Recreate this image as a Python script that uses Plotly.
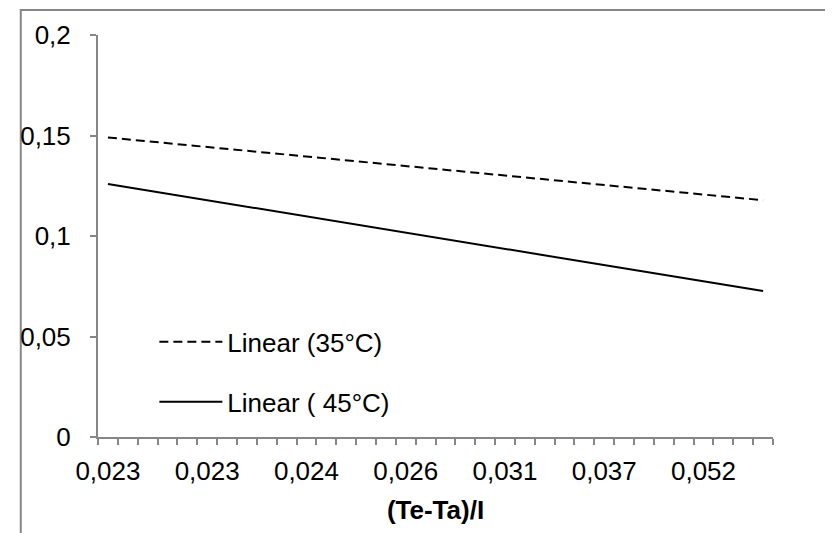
import plotly.graph_objects as go

# ---- data ----
n_categories = 34                      # number of category slots on the x axis
category_index = list(range(n_categories))
label_every = 5
x_tick_labels = ["0,023", "0,023", "0,024", "0,026", "0,031", "0,037", "0,052"]
y_tick_values = [0, 0.05, 0.1, 0.15, 0.2]
y_tick_labels = ["0", "0,05", "0,1", "0,15", "0,2"]

# linear trendlines: value at first and last category
trend_x = [category_index[0], category_index[-1]]
trend_35 = [0.1490, 0.1178]
trend_45 = [0.1259, 0.0726]
series_names = ["Linear (35°C)", "Linear ( 45°C)"]

FONT = "Liberation Sans, Arial, sans-serif"
GREY = "#868686"
FS = 26

fig = go.Figure()
fig.add_trace(go.Scatter(x=trend_x, y=trend_35, mode="lines", name=series_names[0],
                         line=dict(color="black", width=2, dash="9px,5px"),
                         legend="legend"))
fig.add_trace(go.Scatter(x=trend_x, y=trend_45, mode="lines", name=series_names[1],
                         line=dict(color="black", width=2),
                         legend="legend2"))

tickvals_x = category_index[::label_every][:len(x_tick_labels)]

fig.update_layout(
    width=825, height=525,
    margin=dict(l=83, r=60, t=26, b=96),
    paper_bgcolor="white", plot_bgcolor="white",
    font=dict(family=FONT, size=FS, color="black"),
    showlegend=True,
    legend=dict(x=0.0835, y=0.2365, xanchor="left", yanchor="middle",
                bgcolor="rgba(0,0,0,0)", font=dict(size=FS), itemwidth=63),
    legend2=dict(x=0.0835, y=0.0876, xanchor="left", yanchor="middle",
                 bgcolor="rgba(0,0,0,0)", font=dict(size=FS), itemwidth=63),
    xaxis=dict(
        range=[-0.5, n_categories - 0.5],
        tickmode="array", tickvals=tickvals_x, ticktext=x_tick_labels,
        ticks="", showgrid=False, zeroline=False,
        showline=True, linecolor=GREY, linewidth=2,
        tickfont=dict(size=FS),
        ticklabelstandoff=10,
        minor=dict(tickmode="linear", tick0=-0.5, dtick=1, ticks="outside",
                   ticklen=6, tickcolor=GREY, tickwidth=1.5, showgrid=False),
        title=dict(text="<b>(Te-Ta)/I</b>", font=dict(size=FS), standoff=16),
        fixedrange=True,
    ),
    yaxis=dict(
        range=[0, 0.2],
        tickmode="array", tickvals=y_tick_values, ticktext=y_tick_labels,
        ticks="outside", ticklen=6, tickcolor=GREY, tickwidth=1.5,
        showgrid=False, zeroline=False,
        showline=True, linecolor=GREY, linewidth=2,
        tickfont=dict(size=FS),
        ticklabelstandoff=14,
        fixedrange=True,
    ),
    shapes=[dict(type="rect", xref="paper", yref="paper",
                 x0=-0.1144, x1=1.3, y0=-0.4, y1=1.062,
                 line=dict(color=GREY, width=2), fillcolor="rgba(0,0,0,0)",
                 layer="below")],
)

fig.write_html("out.html")
